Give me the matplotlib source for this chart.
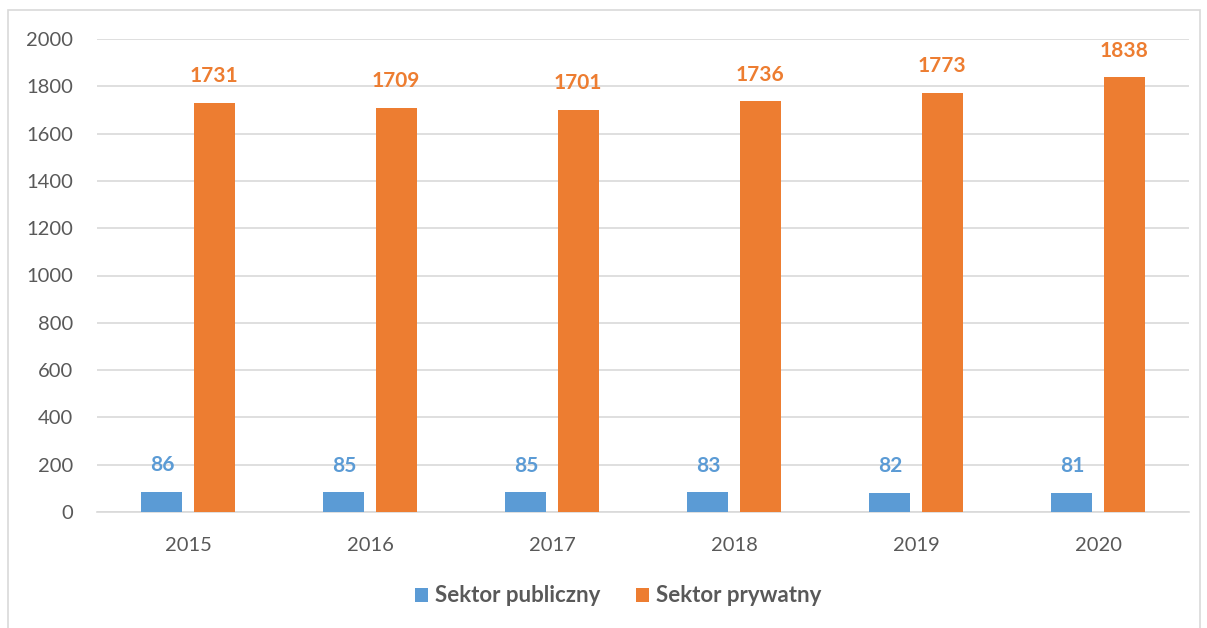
import matplotlib
matplotlib.use("Agg")
import matplotlib.pyplot as plt
import numpy as np
from matplotlib.patches import Rectangle

years = ["2015", "2016", "2017", "2018", "2019", "2020"]
publiczny = [86, 85, 85, 83, 82, 81]
prywatny = [1731, 1709, 1701, 1736, 1773, 1838]
series_names = ["Sektor publiczny", "Sektor prywatny"]
yticks = [0, 200, 400, 600, 800, 1000, 1200, 1400, 1600, 1800, 2000]

BLUE = "#5B9BD5"
ORANGE = "#ED7D31"
GREY = "#595959"

plt.rcParams['font.family'] = ['Lato', 'DejaVu Sans']

fig = plt.figure(figsize=(12.07, 6.28), dpi=100)
# outer frame
fig.patches.append(Rectangle((8/1207, -0.01), (1200-8)/1207, 1 - 10/628 + 0.01,
                             transform=fig.transFigure, fill=False,
                             edgecolor="#d9d9d9", linewidth=1.2))

ax = fig.add_axes([97/1207, 1-512/628, (1189-97)/1207, (512-39)/628])
x = np.arange(len(years))
w = 0.225
off = 0.143
b1 = ax.bar(x - off, publiczny, w, color=BLUE, label=series_names[0], zorder=3)
b2 = ax.bar(x + off, prywatny, w, color=ORANGE, label=series_names[1], zorder=3)

for xi, v in zip(x, publiczny):
    ax.annotate(str(v), (xi - off, v), xytext=(0, 19), textcoords="offset points",
                ha="center", va="center", color=BLUE, fontsize=15, fontweight="bold")
for xi, v in zip(x, prywatny):
    ax.annotate(str(v), (xi + off, v), xytext=(0, 19), textcoords="offset points",
                ha="center", va="center", color=ORANGE, fontsize=15, fontweight="bold")

ax.set_xlim(-0.5, len(years) - 0.5)
ax.set_ylim(0, 2000)
ax.set_yticks(yticks)
ax.set_yticklabels([str(t) for t in yticks])
ax.set_xticks(x)
ax.set_xticklabels(years)
ax.tick_params(axis="both", length=0, labelsize=14.5, colors=GREY)
ax.tick_params(axis="y", pad=17)
ax.tick_params(axis="x", pad=18)
ax.grid(axis="y", color="#d9d9d9", linewidth=1.2, zorder=0)
for s in ["top", "right", "left"]:
    ax.spines[s].set_visible(False)
ax.spines["bottom"].set_color("#d9d9d9")
ax.spines["bottom"].set_linewidth(1.2)

leg = fig.legend(handles=[b1, b2], labels=series_names, loc="center",
                 bbox_to_anchor=(618/1207, 1-596/628), ncol=2, frameon=False,
                 handlelength=0.6, handleheight=0.6, handletextpad=0.3,
                 columnspacing=1.6, prop={"size": 16, "weight": "bold"})
for t in leg.get_texts():
    t.set_color(GREY)

fig.savefig("out.png", dpi=100)
